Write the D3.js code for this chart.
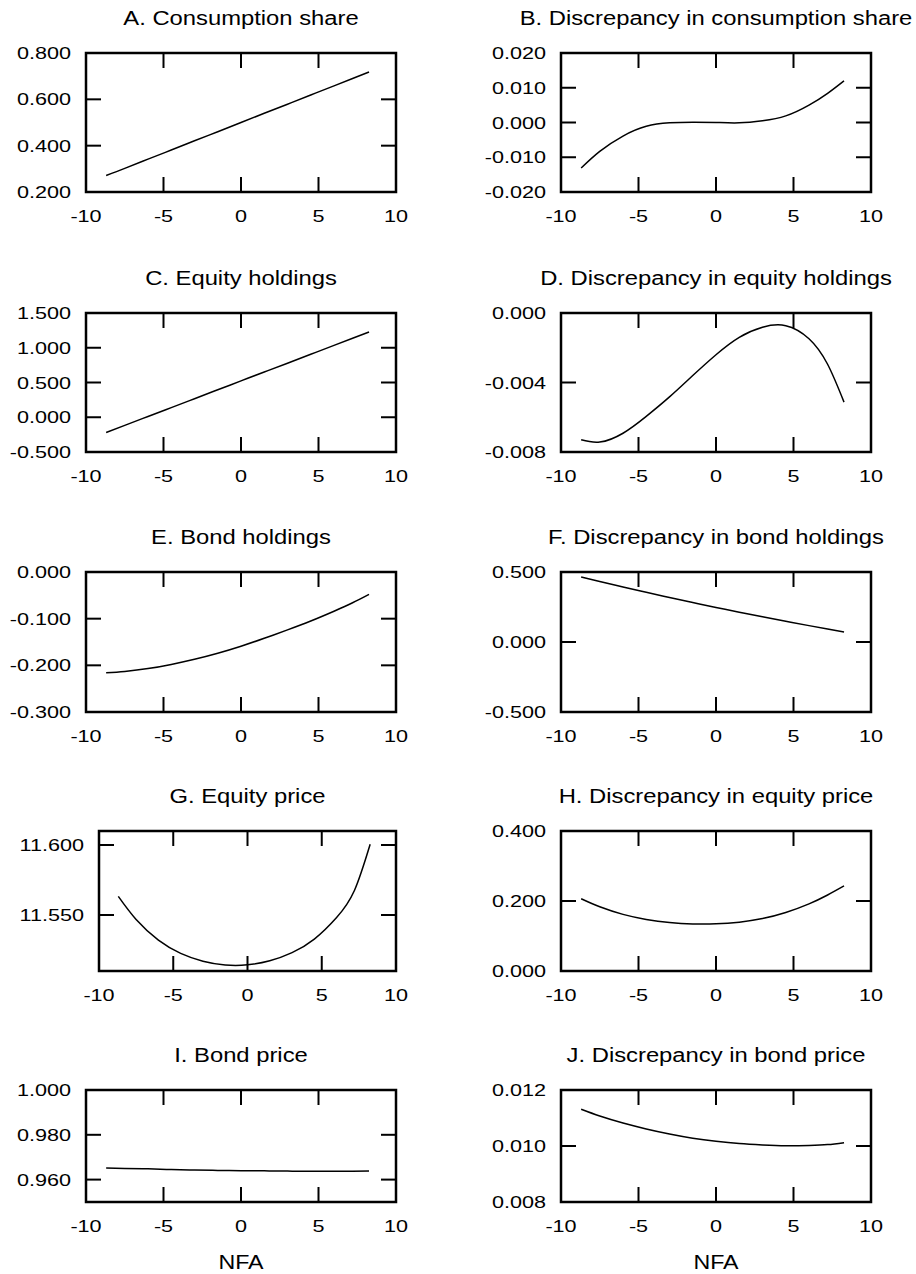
<!DOCTYPE html>
<html>
<head>
<meta charset="utf-8">
<script src="https://cdn.jsdelivr.net/npm/d3@7"></script>
<style>
  html, body { margin: 0; padding: 0; background: #fff; }
  svg { display: block; }
  text { font-family: "Liberation Sans", Arial, Helvetica, sans-serif; fill: #000; }
</style>
</head>
<body>
<svg id="chart" width="916" height="1274"></svg>
<script>
// ---------------- data ----------------
const nfa = [-8.7, -7.5, -6, -4.5, -3, -1.5, 0, 1.5, 3, 4.5, 6, 7.2, 8.26];

const consumptionShare      = [0.271, 0.302, 0.342, 0.381, 0.421, 0.460, 0.500, 0.540, 0.579, 0.619, 0.658, 0.690, 0.718];
const discConsumptionShare  = [-0.0131, -0.0083, -0.0039, -0.0011, -0.0001, 0.0001, 0.0000, -0.0001, 0.0005, 0.0019, 0.0050, 0.0084, 0.0120];
const equityHoldings        = [-0.219, -0.117, 0.011, 0.139, 0.267, 0.395, 0.523, 0.651, 0.778, 0.906, 1.034, 1.137, 1.227];
const discEquityHoldings    = [-0.00730, -0.00743, -0.00692, -0.00595, -0.00483, -0.00360, -0.00240, -0.00140, -0.00082, -0.00073, -0.00148, -0.00295, -0.00513];
const bondHoldings          = [-0.216, -0.213, -0.207, -0.198, -0.187, -0.174, -0.159, -0.142, -0.124, -0.105, -0.084, -0.066, -0.048];
const discBondHoldings      = [0.464, 0.432, 0.393, 0.355, 0.318, 0.282, 0.247, 0.213, 0.180, 0.148, 0.117, 0.093, 0.072];
const equityPrice           = [11.5633, 11.5468, 11.5321, 11.5226, 11.5170, 11.5143, 11.5144, 11.5173, 11.5231, 11.5328, 11.5482, 11.5675, 11.6005];
const discEquityPrice       = [0.2064, 0.1834, 0.1618, 0.1474, 0.1386, 0.1345, 0.1347, 0.1396, 0.1499, 0.1672, 0.1918, 0.2172, 0.2430];
const bondPrice             = [0.9652, 0.9650, 0.9648, 0.9645, 0.9643, 0.9641, 0.9640, 0.9639, 0.9638, 0.9637, 0.9637, 0.9637, 0.9638];
const discBondPrice         = [0.01131, 0.01107, 0.01082, 0.01061, 0.01043, 0.01028, 0.01017, 0.01009, 0.01004, 0.01001, 0.01002, 0.01005, 0.01012];

const xTicks = [-10, -5, 0, 5, 10];
const titles = [
  "A. Consumption share", "B. Discrepancy in consumption share",
  "C. Equity holdings", "D. Discrepancy in equity holdings",
  "E. Bond holdings", "F. Discrepancy in bond holdings",
  "G. Equity price", "H. Discrepancy in equity price",
  "I. Bond price", "J. Discrepancy in bond price"
];
const series = [consumptionShare, discConsumptionShare, equityHoldings, discEquityHoldings,
  bondHoldings, discBondHoldings, equityPrice, discEquityPrice, bondPrice, discBondPrice];
const yDomains = [[0.2, 0.8], [-0.02, 0.02], [-0.5, 1.5], [-0.008, 0], [-0.3, 0],
  [-0.5, 0.5], [11.51, 11.61], [0, 0.4], [0.95, 1.0], [0.008, 0.012]];
const yTicks = [
  [0.2, 0.4, 0.6, 0.8], [-0.02, -0.01, 0, 0.01, 0.02],
  [-0.5, 0, 0.5, 1, 1.5], [-0.008, -0.004, 0],
  [-0.3, -0.2, -0.1, 0], [-0.5, 0, 0.5],
  [11.55, 11.6], [0, 0.2, 0.4],
  [0.96, 0.98, 1.0], [0.008, 0.010, 0.012]
];
const xLabel = "NFA";

// ---------------- layout ----------------
const rowTop = [53, 313, 572, 831, 1090];
const rowBottom = [192, 452, 712, 971, 1202];
const colLeft = [86, 561];
const colRight = [396, 871];
const TICK = 15;
const fmtY = v => d3.format(".3f")(v).replace("\u2212", "-");
const fmtX = v => d3.format("d")(v).replace("\u2212", "-");

const svg = d3.select("#chart");

function stretchedText(g, x, y, str, size, sx, anchor) {
  return g.append("text")
    .attr("transform", `translate(${x},${y}) scale(${sx},1)`)
    .attr("text-anchor", anchor)
    .style("font-size", size + "px")
    .text(str);
}

titles.forEach((title, i) => {
  const col = i % 2, row = Math.floor(i / 2);
  const left = (i === 6) ? 99 : colLeft[col];
  const right = colRight[col];
  const top = rowTop[row], bottom = rowBottom[row];

  const x = d3.scaleLinear().domain([-10, 10]).range([left, right]);
  const y = d3.scaleLinear().domain(yDomains[i]).range([bottom, top]);
  const g = svg.append("g");

  // ticks (inward, mirrored)
  const tg = g.append("g").attr("stroke", "#000").attr("stroke-width", 2);
  xTicks.forEach(t => {
    tg.append("line").attr("x1", x(t)).attr("x2", x(t)).attr("y1", bottom).attr("y2", bottom - TICK);
    tg.append("line").attr("x1", x(t)).attr("x2", x(t)).attr("y1", top).attr("y2", top + TICK);
  });
  yTicks[i].forEach(t => {
    tg.append("line").attr("x1", left).attr("x2", left + TICK).attr("y1", y(t)).attr("y2", y(t));
    tg.append("line").attr("x1", right).attr("x2", right - TICK).attr("y1", y(t)).attr("y2", y(t));
  });

  // frame
  g.append("rect")
    .attr("x", left).attr("y", top)
    .attr("width", right - left).attr("height", bottom - top)
    .attr("fill", "none").attr("stroke", "#000").attr("stroke-width", 2.5);

  // curve
  const line = d3.line()
    .x((d, k) => x(nfa[k]))
    .y(d => y(d))
    .curve(d3.curveNatural);
  g.append("path")
    .datum(series[i])
    .attr("d", line)
    .attr("fill", "none")
    .attr("stroke", "#000")
    .attr("stroke-width", 1.5);

  // tick labels
  xTicks.forEach(t => stretchedText(g, x(t), bottom + 30, fmtX(t), 17, 1.27, "middle"));
  yTicks[i].forEach(t => stretchedText(g, left - 15, y(t) + 6, fmtY(t), 17, 1.27, "end"));

  // title
  stretchedText(g, (left + right) / 2, top - 28, title, 20, 1.19, "middle");

  // x label on bottom row
  if (row === 4) stretchedText(g, (colLeft[col] + right) / 2, 1269, xLabel, 19.5, 1.19, "middle");
});
</script>
</body>
</html>
